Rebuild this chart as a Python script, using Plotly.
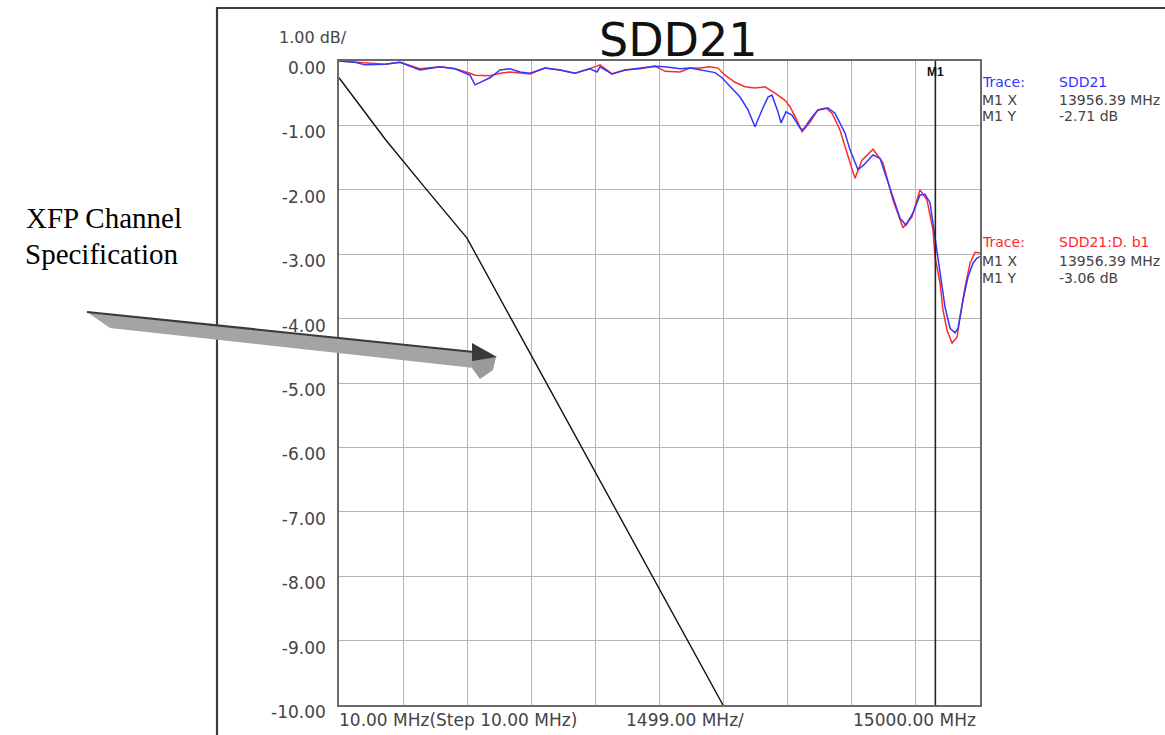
import plotly.graph_objects as go

# ---------------- data ----------------
freq_blue = [10, 384, 618, 1086, 1436, 1904, 2372, 2723, 3073, 3190, 3541, 3775, 4009, 4243, 4477,
             4827, 5178, 5529, 5880, 6043, 6113, 6394, 6698, 7049, 7400, 7634, 7984, 8218, 8452,
             8803, 8967, 9154, 9388, 9575, 9738, 9902, 10042, 10136, 10276, 10346, 10463, 10603,
             10790, 10861, 11071, 11211, 11445, 11609, 11843, 11960, 12147, 12287, 12498, 12662,
             12895, 13129, 13269, 13433, 13597, 13714, 13831, 13948, 13995, 14065, 14182, 14299,
             14416, 14486, 14603, 14720, 14836, 14930, 15000]
db_blue = [0.00, -0.02, -0.06, -0.05, -0.02, -0.14, -0.09, -0.12, -0.22, -0.37, -0.26, -0.14, -0.12,
           -0.17, -0.19, -0.11, -0.14, -0.19, -0.12, -0.17, -0.09, -0.20, -0.14, -0.11, -0.08, -0.09,
           -0.12, -0.11, -0.14, -0.18, -0.26, -0.40, -0.56, -0.76, -1.02, -0.76, -0.56, -0.53, -0.79,
           -0.96, -0.79, -0.84, -1.04, -1.07, -0.87, -0.76, -0.73, -0.81, -1.12, -1.38, -1.69, -1.61,
           -1.46, -1.51, -1.96, -2.44, -2.55, -2.36, -2.08, -2.07, -2.20, -2.72, -2.98, -3.29, -3.82,
           -4.15, -4.22, -4.15, -3.71, -3.35, -3.14, -3.06, -3.04]

freq_red = [10, 384, 618, 1086, 1436, 1904, 2372, 2723, 3073, 3190, 3541, 3775, 4009, 4243, 4477,
            4827, 5178, 5529, 5880, 6043, 6113, 6394, 6698, 7049, 7400, 7634, 7984, 8218, 8452,
            8686, 8873, 9037, 9271, 9505, 9738, 9972, 10206, 10440, 10557, 10697, 10837, 11024,
            11211, 11398, 11539, 11726, 11890, 12077, 12240, 12498, 12731, 12965, 13199, 13409,
            13597, 13761, 13901, 13948, 13995, 14065, 14135, 14229, 14346, 14463, 14533, 14650,
            14767, 14884, 15000]
db_red = [0.00, -0.02, -0.03, -0.05, -0.02, -0.12, -0.09, -0.12, -0.19, -0.22, -0.23, -0.19, -0.17,
          -0.19, -0.20, -0.11, -0.14, -0.19, -0.12, -0.08, -0.06, -0.20, -0.14, -0.12, -0.08, -0.16,
          -0.17, -0.11, -0.11, -0.09, -0.11, -0.22, -0.33, -0.40, -0.42, -0.40, -0.50, -0.61, -0.71,
          -0.89, -1.10, -0.95, -0.76, -0.73, -0.81, -1.07, -1.43, -1.82, -1.54, -1.37, -1.58, -2.16,
          -2.59, -2.42, -2.00, -2.16, -2.62, -3.04, -3.20, -3.45, -3.87, -4.18, -4.38, -4.29, -3.98,
          -3.51, -3.14, -2.97, -2.98]

freq_spec = [10, 1109, 2000, 3003, 4009, 8990]
db_spec = [-0.26, -1.23, -1.95, -2.75, -3.97, -10.00]

y_tickvals = [0, -1, -2, -3, -4, -5, -6, -7, -8, -9, -10]
y_ticktext = ["0.00", "-1.00", "-2.00", "-3.00", "-4.00", "-5.00", "-6.00", "-7.00", "-8.00",
              "-9.00", "-10.00"]
x_start, x_step, x_stop = 10, 1499, 15000
marker_freq = 13956.39

x_labels = ["10.00 MHz(Step 10.00 MHz)", "1499.00 MHz/", "15000.00 MHz"]
title_text = "SDD21"
scale_text = "1.00 dB/"
trace1_info = ["Trace:", "SDD21", "M1 X", "13956.39 MHz", "M1 Y", "-2.71 dB"]
trace2_info = ["Trace:", "SDD21:D. b1", "M1 X", "13956.39 MHz", "M1 Y", "-3.06 dB"]
callout_lines = ["XFP Channel", "Specification"]

BLUE = "#3535ff"
RED = "#ff2a2a"
FONT = "DejaVu Sans"

# ---------------- geometry helpers (pixel -> paper) ----------------
L, R, T, B = 339, 980, 61, 705
W, H = 1165, 735


def px(x):
    return (x - L) / (R - L)


def py(y):
    return (B - y) / (B - T)


def path(points):
    s = "M " + " L ".join(f"{px(a):.5f},{py(b):.5f}" for a, b in points) + " Z"
    return s


fig = go.Figure()
fig.add_trace(go.Scatter(x=freq_spec, y=db_spec, mode="lines",
                         line=dict(color="#111111", width=1.4), showlegend=False))
fig.add_trace(go.Scatter(x=freq_red, y=db_red, mode="lines",
                         line=dict(color=RED, width=1.5), showlegend=False))
fig.add_trace(go.Scatter(x=freq_blue, y=db_blue, mode="lines",
                         line=dict(color=BLUE, width=1.5), showlegend=False))

shapes = []
# outer frame of the instrument screenshot
shapes.append(dict(type="rect", xref="paper", yref="paper", x0=px(217), x1=px(1175),
                   y0=py(740), y1=py(8), line=dict(color="#3c3c3c", width=2.2), layer="below"))
# marker line
shapes.append(dict(type="line", xref="x", yref="y", x0=marker_freq, x1=marker_freq,
                   y0=0, y1=-10, line=dict(color="#222222", width=1.6)))
# arrow body
shapes.append(dict(type="path", xref="paper", yref="paper",
                   path=path([(87, 312), (474, 352), (474, 368), (110, 328)]),
                   fillcolor="#a4a4a4", line=dict(width=0)))
# arrow top edge
shapes.append(dict(type="line", xref="paper", yref="paper", x0=px(87), y0=py(312),
                   x1=px(474), y1=py(352), line=dict(color="#3a3a3a", width=2.2)))
# arrow head lower (gray)
shapes.append(dict(type="path", xref="paper", yref="paper",
                   path=path([(472, 360), (496, 357), (493, 370), (480, 379), (472, 368)]),
                   fillcolor="#9a9a9a", line=dict(width=0)))
# arrow head dark
shapes.append(dict(type="path", xref="paper", yref="paper",
                   path=path([(472, 343), (497, 357), (472, 361)]),
                   fillcolor="#3a3a3a", line=dict(width=0)))

ann = []
ann.append(dict(text=title_text, x=px(678), y=py(40), xref="paper", yref="paper",
                showarrow=False, xanchor="center", yanchor="middle",
                font=dict(family=FONT, size=46, color="#111111")))
ann.append(dict(text=scale_text, x=px(277), y=py(38), xref="paper", yref="paper",
                showarrow=False, xanchor="left", yanchor="middle",
                font=dict(family=FONT, size=16, color="#444444")))
# x labels
ann.append(dict(text=x_labels[0], x=px(337), y=py(720), xref="paper", yref="paper",
                showarrow=False, xanchor="left", yanchor="middle",
                font=dict(family=FONT, size=17, color="#444444")))
ann.append(dict(text=x_labels[1], x=px(624), y=py(720), xref="paper", yref="paper",
                showarrow=False, xanchor="left", yanchor="middle",
                font=dict(family=FONT, size=17, color="#444444")))
ann.append(dict(text=x_labels[2], x=px(978), y=py(720), xref="paper", yref="paper",
                showarrow=False, xanchor="right", yanchor="middle",
                font=dict(family=FONT, size=17, color="#444444")))
# marker label
ann.append(dict(text="<b>M1</b>", x=marker_freq, y=py(72), xref="x", yref="paper",
                showarrow=False, xanchor="center", yanchor="middle",
                font=dict(family="Liberation Sans", size=12, color="#111111")))


def info_block(info, ys, color):
    for i, yy in enumerate(ys):
        lab, val = info[2 * i], info[2 * i + 1]
        c = color if i == 0 else "#444444"
        ann.append(dict(text=lab, x=px(980), y=py(yy), xref="paper", yref="paper",
                        showarrow=False, xanchor="left", yanchor="middle",
                        font=dict(family=FONT, size=14, color=c)))
        ann.append(dict(text=val, x=px(1057), y=py(yy), xref="paper", yref="paper",
                        showarrow=False, xanchor="left", yanchor="middle",
                        font=dict(family=FONT, size=14, color=c)))


info_block(trace1_info, [82, 100, 116], BLUE)
info_block(trace2_info, [242, 261, 278], RED)

# callout text
ann.append(dict(text=callout_lines[0], x=px(104), y=py(218), xref="paper", yref="paper",
                showarrow=False, xanchor="center", yanchor="middle",
                font=dict(family="Liberation Serif", size=29, color="#000000")))
ann.append(dict(text=callout_lines[1], x=px(102), y=py(254), xref="paper", yref="paper",
                showarrow=False, xanchor="center", yanchor="middle",
                font=dict(family="Liberation Serif", size=29, color="#000000")))

fig.update_layout(
    width=W, height=H, autosize=False,
    margin=dict(l=L, r=W - R, t=T, b=H - B, pad=0),
    paper_bgcolor="white", plot_bgcolor="white",
    shapes=shapes, annotations=ann, showlegend=False,
    xaxis=dict(range=[x_start, x_stop], tick0=x_start, dtick=x_step, showticklabels=False,
               ticks="", showgrid=True, gridcolor="#b5b5b5", gridwidth=1, zeroline=False,
               showline=True, linecolor="#6a6a6a", linewidth=1.5, mirror=True, fixedrange=True),
    yaxis=dict(range=[-10, 0], tickvals=y_tickvals, ticktext=y_ticktext, ticks="",
               showgrid=True, gridcolor="#b5b5b5", gridwidth=1, zeroline=False,
               showline=True, linecolor="#6a6a6a", linewidth=1.5, mirror=True,
               tickfont=dict(family=FONT, size=17, color="#444444"),
               ticklabelshift=7, ticklabelstandoff=8, fixedrange=True),
)

fig.write_html("out.html", config={"displayModeBar": False},
               post_script="document.body.style.margin='0px';document.body.style.overflow='hidden';")
